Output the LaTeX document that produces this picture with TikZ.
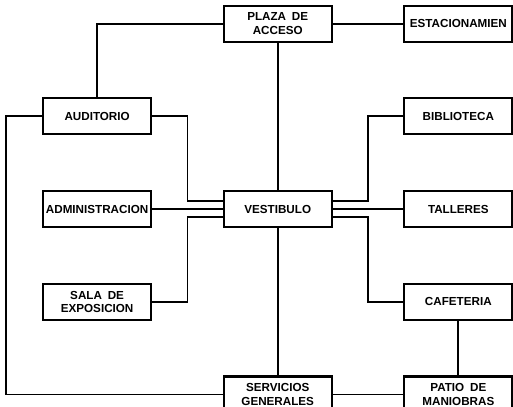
\documentclass[tikz,border=0pt]{standalone}
\usepackage{fontspec}
\setmainfont{Liberation Sans}
\usetikzlibrary{positioning}

\begin{document}
\begin{tikzpicture}[
    node distance=1.65cm and 2.13cm,
    every node/.style={font=\fontsize{10}{11.5}\selectfont\bfseries},
    area/.style={rectangle, minimum width=3.25cm, minimum height=1.08cm, text centered, align=center, draw=black, line width=1.8pt, inner sep=1pt},
    link/.style={line width=1.5pt}
]
\useasboundingbox[fill=white] (-8.37,-5.96) rectangle (7.09,6.30);
\clip (-8.37,-5.96) rectangle (7.09,6.30);

\node (vest) [area] {VESTIBULO};
\node (adm) [area, left=of vest] {ADMINISTRACION};
\node (tall) [area, right=of vest] {TALLERES};
\node (aud) [area, above=of adm] {AUDITORIO};
\node (sala) [area, below=of adm] {SALA\enspace DE\\EXPOSICION};
\node (bib) [area, above=of tall] {BIBLIOTECA};
\node (caf) [area, below=of tall] {CAFETERIA};
\node (est) [area, above=of bib] {ESTACIONAMIEN};
\node (patio) [area, below=of caf] {PATIO\enspace DE\\MANIOBRAS};
\node (plaza) [area] at (vest |- est) {PLAZA\enspace DE\\ACCESO};
\node (serv) [area] at (vest |- patio) {SERVICIOS\\GENERALES};

\draw [link] (plaza.west) -| (aud.north);
\draw [link] (plaza) -- (est);
\draw [link] (plaza) -- (vest);
\draw [link] (vest) -- (serv);
\draw [link] (serv) -- (patio);
\draw [link] (caf) -- (patio);
\draw [link] (adm) -- (vest);
\draw [link] (tall) -- (vest);
\draw [link] (aud.east) -- ++(1.065cm,0) |- ([yshift=0.24cm]vest.west);
\draw [link] (sala.east) -- ++(1.065cm,0) |- ([yshift=-0.24cm]vest.west);
\draw [link] (bib.west) -- ++(-1.065cm,0) |- ([yshift=0.24cm]vest.east);
\draw [link] (caf.west) -- ++(-1.065cm,0) |- ([yshift=-0.24cm]vest.east);
\draw [link] (aud.west) -- ++(-1.08cm,0) |- (serv.west);
\end{tikzpicture}
\end{document}
